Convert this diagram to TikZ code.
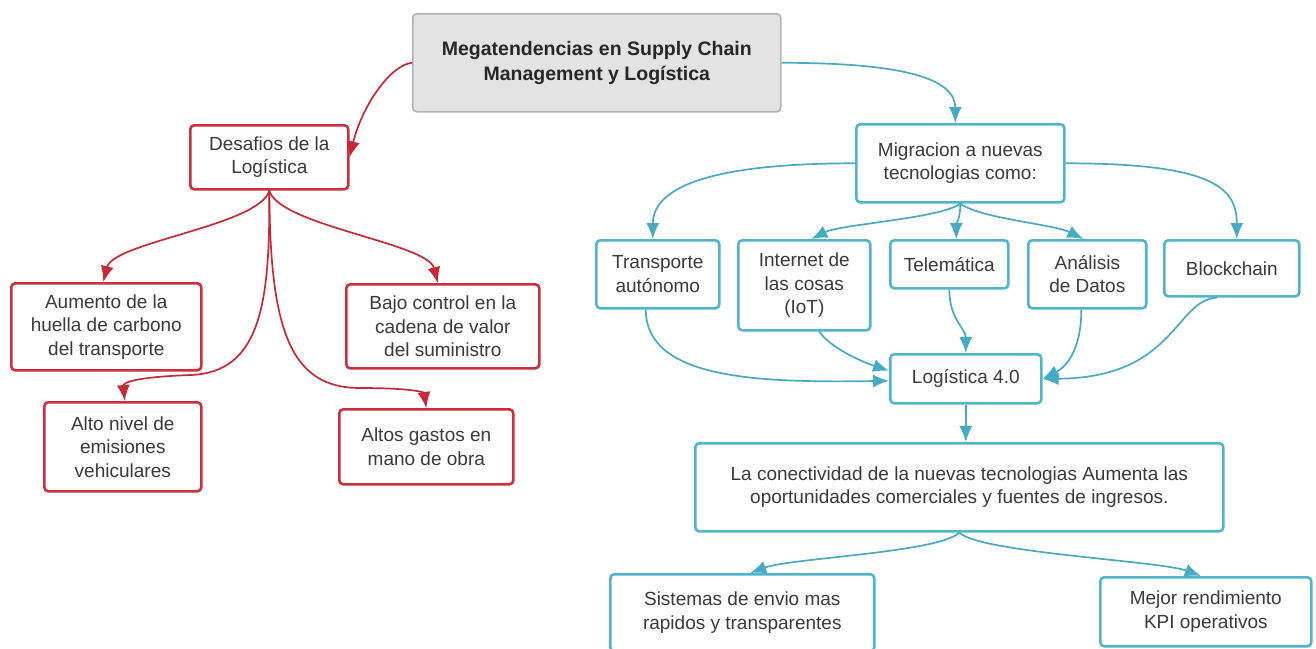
\documentclass[tikz,border=0pt]{standalone}
\usepackage{fontspec}
\setmainfont{Liberation Sans}
\usetikzlibrary{arrows.meta}
\definecolor{rbord}{HTML}{CC2E3C}
\definecolor{rline}{HTML}{C62835}
\definecolor{tbord}{HTML}{50B4CA}
\definecolor{tline}{HTML}{45AAC2}
\definecolor{txt}{HTML}{3A3A3A}
\definecolor{mfill}{HTML}{E3E3E3}
\definecolor{mbord}{HTML}{B3B3B3}
\begin{document}
\begin{tikzpicture}[x=1pt,y=-1pt,
  box/.style={rounded corners=4pt, line width=2.6pt, fill=white, align=center,
    text=txt, font=\fontsize{19}{23.5}\selectfont, inner sep=0pt, anchor=north west},
  redbox/.style={box, draw=rbord},
  tealbox/.style={box, draw=tbord},
  mainbox/.style={box, draw=mbord, fill=mfill, line width=1.6pt,
    font=\fontsize{19.5}{25}\selectfont\bfseries, text=black!85},
  rarr/.style={draw=rline, line width=1.7pt, -{Latex[length=16pt,width=13pt]}},
  tarr/.style={draw=tline, line width=1.7pt, -{Latex[length=16pt,width=13pt]}}]
\useasboundingbox (0,0) rectangle (1316,648);

% main
\node[mainbox, minimum width=368pt, minimum height=98pt] (main) at (412,13)
  {Megatendencias en Supply Chain\\Management y Logística};

% red side
\node[redbox, minimum width=158pt, minimum height=64pt] (des) at (189,124)
  {Desafios de la\\Logística};
\node[redbox, minimum width=190pt, minimum height=87pt] (aum) at (10,282)
  {Aumento de la\\huella de carbono\\del transporte};
\node[redbox, minimum width=193pt, minimum height=84pt] (bajo) at (345,283)
  {Bajo control en la\\cadena de valor\\del suministro};
\node[redbox, minimum width=157pt, minimum height=89pt] (alto) at (43,401)
  {Alto nivel de\\emisiones\\vehiculares};
\node[redbox, minimum width=174pt, minimum height=75pt] (gas) at (338,408)
  {Altos gastos en\\mano de obra};

% teal side
\node[tealbox, minimum width=208pt, minimum height=78pt] (mig) at (855,123)
  {Migracion a nuevas\\tecnologias como:};
\node[tealbox, minimum width=123pt, minimum height=68pt] (tra) at (595,239)
  {Transporte\\autónomo};
\node[tealbox, minimum width=132pt, minimum height=90pt] (int) at (737,239)
  {Internet de\\las cosas\\(IoT)};
\node[tealbox, minimum width=118pt, minimum height=48pt] (tel) at (889,239)
  {Telemática};
\node[tealbox, minimum width=118pt, minimum height=68pt] (ana) at (1027,239)
  {Análisis\\de Datos};
\node[tealbox, minimum width=135pt, minimum height=56pt] (blo) at (1163,239)
  {Blockchain};
\node[tealbox, minimum width=151pt, minimum height=49pt] (log) at (889,353)
  {Logística 4.0};
\node[tealbox, minimum width=528pt, minimum height=88pt] (con) at (694,442)
  {La conectividad de la nuevas tecnologias Aumenta las\\oportunidades comerciales y fuentes de ingresos.};
\node[tealbox, minimum width=264pt, minimum height=77pt] (sis) at (609,573)
  {Sistemas de envio mas\\rapidos y transparentes};
\node[tealbox, minimum width=211pt, minimum height=69pt] (mej) at (1099,576)
  {Mejor rendimiento\\KPI operativos};

% red connectors
\draw[rarr] (main.west) .. controls +(-22,2) and +(12,-50) .. (des.east);
\draw[rarr] (des.south) .. controls +(-10,35) and +(10,-40) .. ([xshift=-3pt]aum.north);
\draw[rarr] (des.south) .. controls +(10,35) and +(-10,-40) .. ([xshift=-5pt]bajo.north);
\draw[rarr] (des.south) .. controls (270,300) and (262,373) .. (190,375)
  .. controls (138,377) and (123,382) .. ([xshift=2pt]alto.north);
\draw[rarr] (des.south) .. controls (270,330) and (290,388) .. (360,388)
  .. controls (410,388) and (424,392) .. (gas.north);

% teal connectors
\draw[tarr] (main.east) .. controls +(120,0) and +(0,-45) .. ([xshift=-5pt]mig.north);
\draw[tarr] (mig.west) .. controls +(-150,0) and +(0,-50) .. ([xshift=-5pt]tra.north);
\draw[tarr] (mig.south) .. controls +(-20,15) and +(30,-15) .. ([xshift=7pt]int.north);
\draw[tarr] (mig.south) .. controls +(0,15) and +(0,-15) .. ([xshift=7pt]tel.north);
\draw[tarr] (mig.south) .. controls +(20,15) and +(-30,-15) .. ([xshift=-4pt]ana.north);
\draw[tarr] (mig.east) .. controls +(150,0) and +(0,-50) .. ([xshift=5pt]blo.north);

\draw[tarr] ([xshift=-12pt]tra.south) .. controls +(0,70) and +(-130,2) .. ([yshift=-2pt]log.west);
\draw[tarr] ([xshift=15pt]int.south) .. controls +(10,15) and +(-30,-10) .. ([yshift=8pt]log.west);
\draw[tarr] (tel.south) .. controls +(0,30) and +(0,-25) .. (log.north);
\draw[tarr] ([xshift=-6pt]ana.south) .. controls +(0,45) and +(20,-10) .. (log.east);
\draw[tarr] ([xshift=-15pt]blo.south) .. controls (1175,300) and (1175,378) .. (log.east);

\draw[tarr] (log.south) -- (log.south |- con.north);
\draw[tarr] (con.south) .. controls +(-20,20) and +(40,-15) .. ([xshift=8pt]sis.north);
\draw[tarr] (con.south) .. controls +(20,20) and +(-40,-15) .. ([xshift=-5pt]mej.north);
\end{tikzpicture}
\end{document}
